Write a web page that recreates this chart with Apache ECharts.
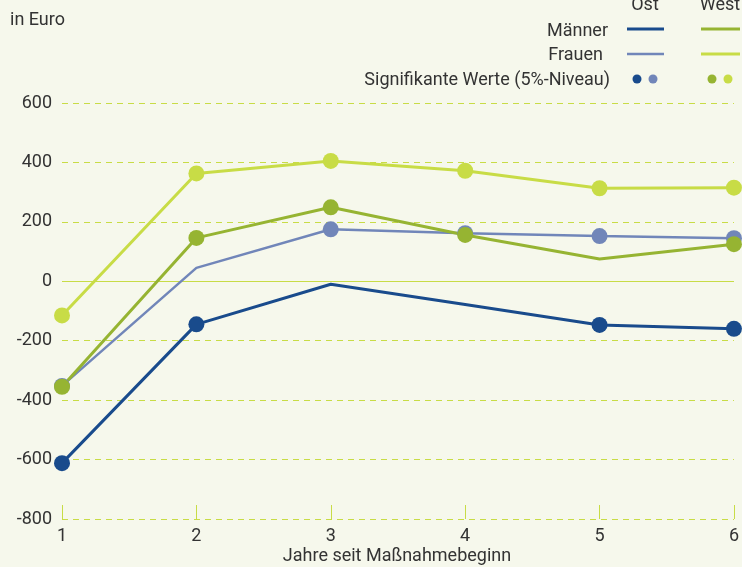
<!DOCTYPE html>
<html><head><meta charset="utf-8">
<script src="https://cdn.jsdelivr.net/npm/echarts@6/dist/echarts.min.js"></script>
<style>html,body{margin:0;padding:0;background:#f6f8ec;}#c{width:742px;height:567px;}</style>
</head><body><div id="c"></div>
<script>
var years = ['1','2','3','4','5','6'];
var yTicks = [-800,-600,-400,-200,0,200,400,600];
var maennerOst = [-612,-145,-10,-78,-147,-160];
var maennerOstSig = [1,1,0,0,1,1];
var frauenOst = [-352,45,175,162,152,145];
var frauenOstSig = [1,0,1,1,1,1];
var maennerWest = [-355,146,249,156,75,125];
var maennerWestSig = [1,1,1,1,0,1];
var frauenWest = [-115,363,405,372,313,315];
var frauenWestSig = [1,1,1,1,1,1];

var FONT = 'Roboto,"Open Sans",sans-serif';
var TXT = '#333333';
var GRID = '#c8dc46';

function mk(vals, sig){
  return vals.map(function(v,i){ return {value:v, symbol: sig[i]?'circle':'none'}; });
}
function line(name, vals, sig, color, width){
  return {name:name, type:'line', data:mk(vals,sig), symbolSize:16, showAllSymbol:true,
    lineStyle:{color:color,width:width}, itemStyle:{color:color}, emphasis:{disabled:true}, z:3};
}
var chart = echarts.init(document.getElementById('c'));
var series = [
  line('Frauen Ost', frauenOst, frauenOstSig, '#7186b9', 2.5),
  line('Männer Ost', maennerOst, maennerOstSig, '#194b8c', 3),
  line('Frauen West', frauenWest, frauenWestSig, '#c8dc46', 3),
  line('Männer West', maennerWest, maennerWestSig, '#96b432', 3)
];
series[0].markLine = {silent:true, symbol:['none','none'], label:{show:false},
  lineStyle:{color:GRID,type:'solid',width:1}, data:[{yAxis:0}], z:1};

chart.setOption({
  backgroundColor:'#f6f8ec',
  animation:false,
  textStyle:{fontFamily:FONT},
  grid:{left:62,right:7,top:103,bottom:48},
  xAxis:{type:'category', data:years, boundaryGap:false,
    axisLine:{show:false, onZero:false},
    axisTick:{show:true, inside:true, length:14, alignWithLabel:true, lineStyle:{color:GRID,width:1}},
    axisLabel:{color:TXT, fontSize:18, fontFamily:FONT, margin:8},
    splitLine:{show:false}},
  yAxis:{type:'value', min:yTicks[0], max:yTicks[yTicks.length-1], interval:200,
    axisLine:{show:false}, axisTick:{show:false},
    axisLabel:{color:TXT, fontSize:18, fontFamily:FONT, margin:10},
    splitLine:{show:true, lineStyle:{color:GRID, type:[6,5], width:1}}},
  graphic:[
    {type:'text', x:10, y:20, style:{text:'in Euro', fill:TXT, font:'18px '+FONT, textVerticalAlign:'middle'}},
    {type:'text', x:397, y:556, style:{text:'Jahre seit Maßnahmebeginn', fill:TXT, font:'18px '+FONT, textAlign:'center', textVerticalAlign:'middle'}},
    {type:'text', x:645, y:5, style:{text:'Ost', fill:TXT, font:'18px '+FONT, textAlign:'center', textVerticalAlign:'middle'}},
    {type:'text', x:720, y:5, style:{text:'West', fill:TXT, font:'18px '+FONT, textAlign:'center', textVerticalAlign:'middle'}},
    {type:'text', x:608, y:31, style:{text:'Männer', fill:TXT, font:'18px '+FONT, textAlign:'right', textVerticalAlign:'middle'}},
    {type:'text', x:603, y:55, style:{text:'Frauen', fill:TXT, font:'18px '+FONT, textAlign:'right', textVerticalAlign:'middle'}},
    {type:'text', x:610, y:80, style:{text:'Signifikante Werte (5%-Niveau)', fill:TXT, font:'18px '+FONT, textAlign:'right', textVerticalAlign:'middle'}},
    {type:'line', shape:{x1:627,y1:29,x2:664,y2:29}, style:{stroke:'#194b8c',lineWidth:3}},
    {type:'line', shape:{x1:701,y1:29,x2:740,y2:29}, style:{stroke:'#96b432',lineWidth:3}},
    {type:'line', shape:{x1:627,y1:54,x2:664,y2:54}, style:{stroke:'#7186b9',lineWidth:2.5}},
    {type:'line', shape:{x1:701,y1:54,x2:740,y2:54}, style:{stroke:'#c8dc46',lineWidth:3}},
    {type:'circle', shape:{cx:637,cy:79,r:4.5}, style:{fill:'#194b8c'}},
    {type:'circle', shape:{cx:653,cy:79,r:4.5}, style:{fill:'#7186b9'}},
    {type:'circle', shape:{cx:712,cy:79,r:4.5}, style:{fill:'#96b432'}},
    {type:'circle', shape:{cx:728,cy:79,r:4.5}, style:{fill:'#c8dc46'}}
  ],
  series: series
});
</script></body></html>
